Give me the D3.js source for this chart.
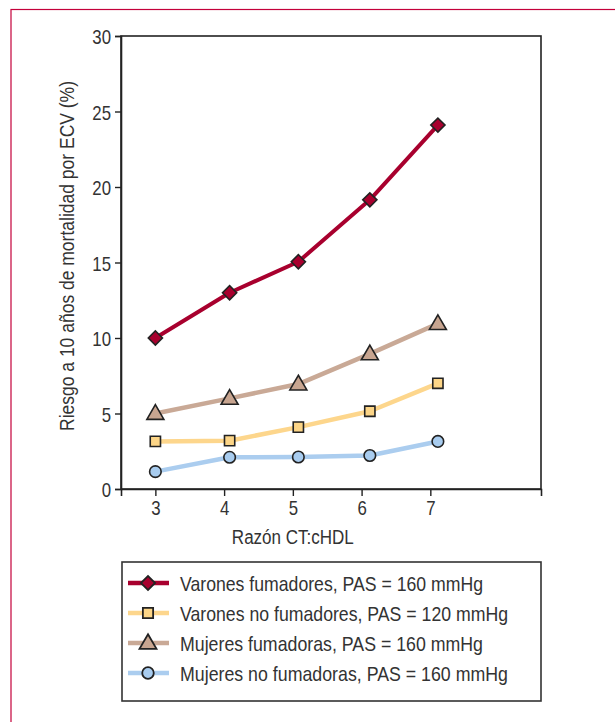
<!DOCTYPE html>
<html>
<head>
<meta charset="utf-8">
<script src="https://cdn.jsdelivr.net/npm/d3@7"></script>
<style>
  body { margin: 0; background: #fff; }
  text { font-family: "Liberation Sans", Arial, sans-serif; fill: #333; }
</style>
</head>
<body>
<div id="chart"></div>
<script>
// ratio values (marker positions as drawn)
const xVals = [3, 4.08, 5.08, 6.12, 7.11];
const xTicks = [3, 4, 5, 6, 7];
const yTicks = [0, 5, 10, 15, 20, 25, 30];

const varonesFum = [10.0, 13.0, 15.05, 19.15, 24.1];
const varonesNoFum = [3.15, 3.2, 4.1, 5.15, 7.0];
const mujeresFum = [5.0, 6.0, 6.95, 8.95, 10.95];
const mujeresNoFum = [1.15, 2.1, 2.12, 2.22, 3.15];

const seriesNames = [
  'Varones fumadores, PAS = 160 mmHg',
  'Varones no fumadores, PAS = 120 mmHg',
  'Mujeres fumadoras, PAS = 160 mmHg',
  'Mujeres no fumadoras, PAS = 160 mmHg'
];

const series = [
  { name: seriesNames[0], values: varonesFum, line: '#a8002e', fill: '#a8002e', symbol: 'diamond' },
  { name: seriesNames[1], values: varonesNoFum, line: '#fdd68c', fill: '#fcd587', symbol: 'square' },
  { name: seriesNames[2], values: mujeresFum, line: '#c9a996', fill: '#c8a590', symbol: 'triangle' },
  { name: seriesNames[3], values: mujeresNoFum, line: '#abcdef', fill: '#a8ccef', symbol: 'circle' }
];

const W = 615, H = 722;
const margin = {top: 36, left: 121, right: 74, bottom: 233};
const width = W - margin.left - margin.right,
    height = H - margin.top - margin.bottom;

// condensed look: squeeze text horizontally
function squeeze(sel, k) {
  sel.each(function() {
    const len = this.getComputedTextLength();
    d3.select(this).attr('textLength', len * k).attr('lengthAdjust', 'spacingAndGlyphs');
  });
}

const svg = d3.select('#chart')
    .append('svg')
    .attr('width', W)
    .attr('height', H);

// outer red frame (continues past the right and bottom edges)
svg.append('rect')
    .attr('x', 11).attr('y', 9.5)
    .attr('width', 640).attr('height', 740)
    .attr('fill', 'none')
    .attr('stroke', '#c4003a')
    .attr('stroke-width', 1.2);

const g = svg.append('g')
    .attr('transform', `translate(${margin.left},${margin.top})`);

const x = d3.scaleLinear().domain([2.5, 8.61]).range([0, width]);
const y = d3.scaleLinear().domain([0, 30]).range([height, 0]);

// plot box
g.append('rect')
    .attr('width', width).attr('height', height)
    .attr('fill', 'none').attr('stroke', '#222').attr('stroke-width', 1.6);

const xAxis = g.append('g')
    .attr('transform', `translate(0,${height})`)
    .call(d3.axisBottom(x).tickValues(xTicks).tickSize(7).tickPadding(4).tickFormat(d3.format('d')));
const yAxis = g.append('g')
    .call(d3.axisLeft(y).tickValues(yTicks).tickSize(6).tickPadding(4));
[xAxis, yAxis].forEach(a => {
  a.select('.domain').attr('stroke', '#222').attr('stroke-width', 1.6);
  a.selectAll('.tick line').attr('stroke', '#222').attr('stroke-width', 1.4);
  a.selectAll('.tick text').attr('font-size', 21).attr('fill', '#333')
      .style('font-family', '"Liberation Sans", Arial, sans-serif');
  squeeze(a.selectAll('.tick text'), 0.8);
});
yAxis.selectAll('.tick text').attr('dy', '0.36em');

g.append('text')
    .attr('x', x(5)).attr('y', height + 55)
    .attr('text-anchor', 'middle')
    .attr('font-size', 20)
    .attr('textLength', 122).attr('lengthAdjust', 'spacingAndGlyphs')
    .text('Razón CT:cHDL');

g.append('text')
    .attr('transform', `translate(${74 - margin.left},${256 - margin.top}) rotate(-90)`)
    .attr('text-anchor', 'middle')
    .attr('font-size', 20)
    .attr('textLength', 350).attr('lengthAdjust', 'spacingAndGlyphs')
    .text('Riesgo a 10 años de mortalidad por ECV (%)');

const symbols = {
  diamond: d3.symbol().type(d3.symbolSquare).size(100),
  square: d3.symbol().type(d3.symbolSquare).size(105),
  triangle: d3.symbol().type(d3.symbolTriangle).size(125),
  circle: d3.symbol().type(d3.symbolCircle).size(105)
};

const line = d3.line()
    .x((d, i) => x(xVals[i]))
    .y(d => y(d));

// draw back to front so the red line sits on top
series.slice().reverse().forEach(s => {
  g.append('path')
      .datum(s.values)
      .attr('fill', 'none')
      .attr('stroke', s.line)
      .attr('stroke-width', s.symbol === 'diamond' ? 4 : 4.5)
      .attr('stroke-linejoin', 'round')
      .attr('d', line);
  g.selectAll(null)
      .data(s.values)
      .join('path')
      .attr('d', symbols[s.symbol])
      .attr('transform', (d, i) => `translate(${x(xVals[i])},${y(d) + (s.symbol === 'triangle' ? 1 : 0)})${s.symbol === 'diamond' ? ' rotate(45)' : ''}`)
      .attr('fill', s.fill)
      .attr('stroke', '#222')
      .attr('stroke-width', 1.6);
});

// legend
const legend = svg.append('g').attr('transform', 'translate(122,562)');
legend.append('rect')
    .attr('width', 419).attr('height', 139)
    .attr('fill', 'none').attr('stroke', '#333').attr('stroke-width', 1.6);

const legendLen = [303, 328, 303, 328];
series.forEach((s, i) => {
  const row = legend.append('g').attr('transform', `translate(0,${21 + i * 30})`);
  row.append('line')
      .attr('x1', 6).attr('x2', 47)
      .attr('stroke', s.line).attr('stroke-width', 4.5);
  row.append('path')
      .attr('d', symbols[s.symbol])
      .attr('transform', `translate(26,${s.symbol === 'triangle' ? 1 : 0})${s.symbol === 'diamond' ? ' rotate(45)' : ''}`)
      .attr('fill', s.fill)
      .attr('stroke', '#222')
      .attr('stroke-width', 1.8);
  row.append('text')
      .attr('x', 58).attr('y', 7.5)
      .attr('font-size', 21)
      .attr('textLength', legendLen[i]).attr('lengthAdjust', 'spacingAndGlyphs')
      .text(s.name);
});
</script>
</body>
</html>
